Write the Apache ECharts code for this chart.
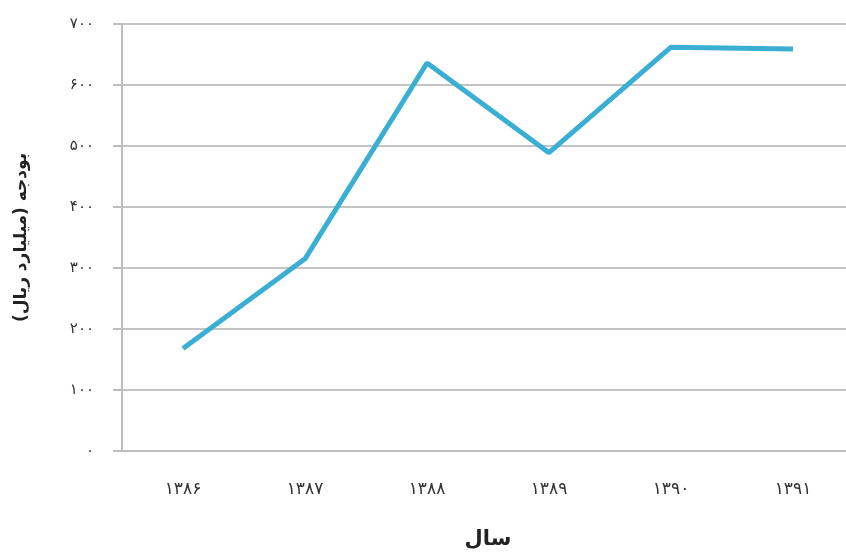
<!DOCTYPE html>
<html>
<head>
<meta charset="utf-8">
<script src="https://cdn.jsdelivr.net/npm/echarts@6/dist/echarts.min.js"></script>
<style>
    html, body { margin: 0; padding: 0; background: #fff; }
    #chart { width: 846px; height: 552px; }
</style>
</head>
<body>
<div id="chart"></div>
<script>
const years = ['۱۳۸۶', '۱۳۸۷', '۱۳۸۸', '۱۳۸۹', '۱۳۹۰', '۱۳۹۱'];
const budget = [168, 315, 636, 489, 662, 659];
const yTickLabels = ['۰', '۱۰۰', '۲۰۰', '۳۰۰', '۴۰۰', '۵۰۰', '۶۰۰', '۷۰۰'];

let myChart = echarts.init(document.getElementById('chart'));
let option = {
    animation: false,
    textStyle: { fontFamily: 'DejaVu Sans' },
    grid: { left: 122, top: 24, width: 732, height: 427, outerBoundsMode: 'none', containLabel: false },
    xAxis: {
        type: 'category',
        data: years,
        boundaryGap: true,
        name: 'سال',
        nameLocation: 'middle',
        nameGap: 78,
        nameTextStyle: { fontSize: 21, fontWeight: 'bold', color: '#222' },
        axisLine: { lineStyle: { color: '#bdbdbd', width: 2 } },
        axisTick: { show: false },
        axisLabel: { fontSize: 17, color: '#333', margin: 30 }
    },
    yAxis: {
        type: 'value',
        min: 0,
        max: 700,
        interval: 100,
        name: 'بودجه (میلیارد ریال)',
        nameLocation: 'middle',
        nameGap: 92,
        nameRotate: 90,
        nameTextStyle: { fontSize: 17, fontWeight: 'bold', color: '#222' },
        axisLine: { show: true, lineStyle: { color: '#bdbdbd', width: 2 } },
        axisTick: { show: true, length: 9, lineStyle: { color: '#bdbdbd', width: 2 } },
        axisLabel: {
            fontSize: 15,
            color: '#333',
            margin: 28,
            formatter: function (v) { return yTickLabels[Math.round(v / 100)]; }
        },
        splitLine: { lineStyle: { color: '#c4c4c4', width: 2 } }
    },
    series: [
        {
            type: 'line',
            data: budget,
            showSymbol: false,
            lineStyle: { color: '#3aafd3', width: 5 }
        }
    ]
};
myChart.setOption(option);
</script>
</body>
</html>
